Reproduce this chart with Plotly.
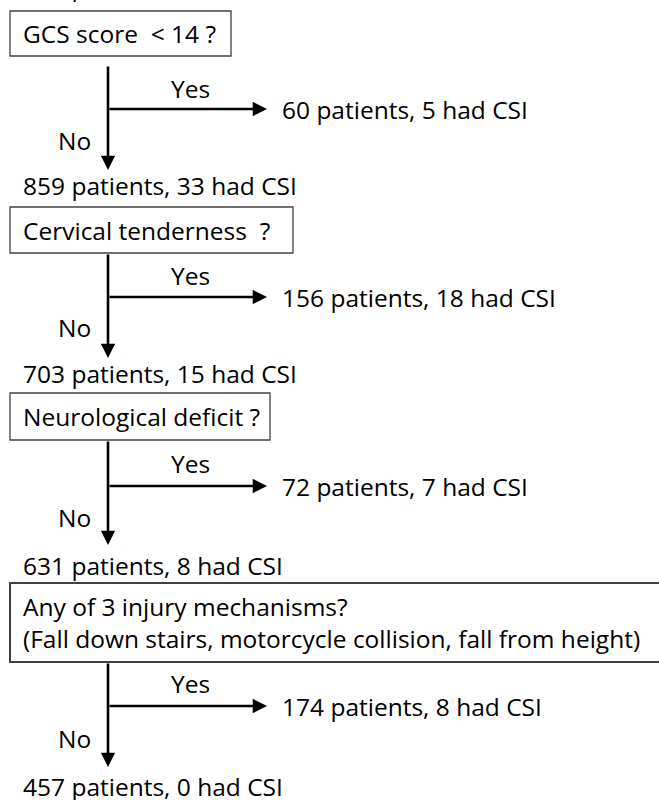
import plotly.graph_objects as go

# ---- data ----
total_patients = 919
total_csi = 38
questions = [
    "GCS score  < 14 ?",
    "Cervical tenderness  ?",
    "Neurological deficit ?",
    "Any of 3 injury mechanisms?<br>(Fall down stairs, motorcycle collision, fall from height)",
]
yes_patients = [60, 156, 72, 174]
yes_csi = [5, 18, 7, 8]
no_patients = [859, 703, 631, 457]
no_csi = [33, 15, 8, 0]

# ---- layout (pixel positions, y downward) ----
box_x1 = [231, 293, 270, 668]
box_y0 = [11, 207, 393, 583]
box_y1 = [56, 253, 440, 662]
box_line = [1.3, 1.3, 1.3, 2]
line_start = [65, 253, 440, 662]
arrow_tip = [170, 358, 545, 767]
branch_y = [109, 297, 486, 706]
yes_y = [88, 275, 463, 683]
no_y = [140, 327, 517, 738]
result_y = [185, 373, 565, 786]

FONT = "Open Sans"
FS = 24.5
W, H = 659, 800
stem_x = 108
branch_tip = 267

fig = go.Figure()
fig.add_trace(go.Scatter(x=[0, W], y=[0, H], mode="markers",
                         marker=dict(opacity=0), hoverinfo="skip", showlegend=False))

shapes = []
ann = []

def txt(x, y, s, xanchor="left", yanchor="middle"):
    ann.append(dict(x=x, y=y, xref="x", yref="y", text=s, showarrow=False,
                    xanchor=xanchor, yanchor=yanchor, align="left",
                    font=dict(family=FONT, size=FS, color="black")))

def arrow(x0, y0, x1, y1):
    ann.append(dict(x=x1, y=y1, ax=x0, ay=y0, xref="x", yref="y", axref="x", ayref="y",
                    text="", showarrow=True, arrowhead=2, arrowsize=1.1, arrowwidth=2.6,
                    arrowcolor="black", standoff=0, startstandoff=0))

# clipped top text
txt(21, 5, f"{total_patients} patients, {total_csi} had CSI", yanchor="bottom")

for i, q in enumerate(questions):
    shapes.append(dict(type="rect", xref="x", yref="y", x0=10, x1=box_x1[i],
                       y0=box_y0[i], y1=box_y1[i],
                       line=dict(color="#404040", width=box_line[i]), fillcolor="white"))
    txt(21, (box_y0[i] + box_y1[i]) / 2, q)
    arrow(stem_x, line_start[i], stem_x, arrow_tip[i])
    arrow(stem_x, branch_y[i], branch_tip, branch_y[i])
    txt(190, yes_y[i], "Yes", xanchor="center")
    txt(74, no_y[i], "No", xanchor="center")
    txt(280, branch_y[i], f"{yes_patients[i]} patients, {yes_csi[i]} had CSI")
    txt(21, result_y[i], f"{no_patients[i]} patients, {no_csi[i]} had CSI")

fig.update_layout(
    width=W, height=H, margin=dict(l=0, r=0, t=0, b=0),
    paper_bgcolor="white", plot_bgcolor="white",
    xaxis=dict(range=[0, W], visible=False, fixedrange=True),
    yaxis=dict(range=[H, 0], visible=False, fixedrange=True),
    shapes=shapes, annotations=ann, showlegend=False,
)
fig.write_html("out.html", config={"displayModeBar": False},
               post_script="document.body.style.margin='0';")
